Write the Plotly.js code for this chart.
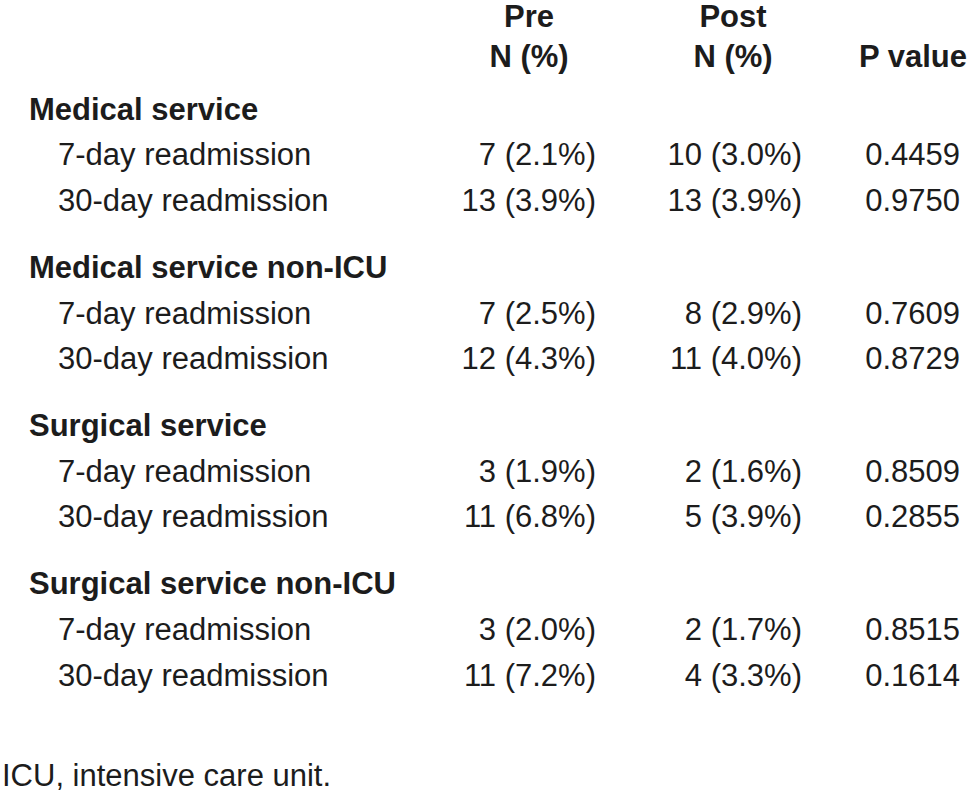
<!DOCTYPE html>
<html>
<head>
<meta charset="utf-8">
<script src="https://cdn.plot.ly/plotly-3.0.1.min.js"></script>
<style>
  html, body { margin: 0; padding: 0; background: #ffffff; }
  #readmission-table { width: 968px; height: 795px; }
</style>
</head>
<body>
<div id="readmission-table"></div>
<script>
// table content
const groups = ["Medical service", "Medical service non-ICU", "Surgical service", "Surgical service non-ICU"];
const outcomes = ["7-day readmission", "30-day readmission"];
const preN = [7, 13, 7, 12, 3, 11, 3, 11];
const prePct = [2.1, 3.9, 2.5, 4.3, 1.9, 6.8, 2.0, 7.2];
const postN = [10, 13, 8, 11, 2, 5, 2, 4];
const postPct = [3.0, 3.9, 2.9, 4.0, 1.6, 3.9, 1.7, 3.3];
const pValues = [0.4459, 0.9750, 0.7609, 0.8729, 0.8509, 0.2855, 0.8515, 0.1614];
const headerTop = ["Pre", "Post", ""];
const headerBottom = ["N (%)", "N (%)", "P value"];
const footnote = "ICU, intensive care unit.";

drawTable();

function drawTable() {
    const fontFamily = "'Liberation Sans Narrow', 'Arial Narrow', 'Liberation Sans', Arial, sans-serif";
    const ink = "#1c1c1c";
    const fontSize = 31;

    // column anchors (x axis is in px across the page)
    const col = {
        group: 29,
        outcome: 58,
        pre: 596,
        post: 802,
        pval: 960,
        preHead: 529,
        postHead: 733,
        pHead: 913,
        note: 2,
    };
    // rows: one unit = one text line
    const groupStep = 3.46;
    const headTopRow = -2.03;
    const headBottomRow = -1.16;
    const noteRow = 14.58;

    const groupY = groups.map((g, i) => i * groupStep);
    const rowLabels = [];
    const rowY = [];
    groups.forEach((g, i) => {
        outcomes.forEach((o, j) => {
            rowLabels.push(o);
            rowY.push(groupY[i] + j + 1);
        });
    });

    const fmtCount = (n, p) => `${n} (${p.toFixed(1)}%)`;
    const preText = preN.map((n, i) => fmtCount(n, prePct[i]));
    const postText = postN.map((n, i) => fmtCount(n, postPct[i]));
    const pText = pValues.map(p => p.toFixed(4));

    const regular = { family: fontFamily, size: fontSize, color: ink };
    const bold = { family: fontFamily, size: fontSize, color: ink, weight: "bold" };

    const textTrace = (x, y, text, position, font) => ({
        x: x,
        y: y,
        text: text,
        mode: "text",
        type: "scatter",
        textposition: position,
        textfont: font,
        hoverinfo: "skip",
        showlegend: false,
        cliponaxis: false,
    });

    const headX = [col.preHead, col.postHead, col.pHead];

    const data = [
        textTrace(headX, headerTop.map(() => headTopRow), headerTop, "middle center", bold),
        textTrace(headX, headerBottom.map(() => headBottomRow), headerBottom, "middle center", bold),
        textTrace(groups.map(() => col.group), groupY, groups, "middle right", bold),
        textTrace(rowLabels.map(() => col.outcome), rowY, rowLabels, "middle right", regular),
        textTrace(preText.map(() => col.pre), rowY, preText, "middle left", regular),
        textTrace(postText.map(() => col.post), rowY, postText, "middle left", regular),
        textTrace(pText.map(() => col.pval), rowY, pText, "middle left", regular),
        textTrace([col.note], [noteRow], [footnote], "middle right", regular),
    ];

    const rowPx = 45.7;
    const firstGroupPx = 112;
    const layout = {
        width: 968,
        height: 795,
        margin: { l: 0, r: 0, t: 0, b: 0 },
        paper_bgcolor: "#ffffff",
        plot_bgcolor: "#ffffff",
        xaxis: { range: [0, 968], visible: false, fixedrange: true },
        yaxis: {
            range: [(795 - firstGroupPx) / rowPx, -firstGroupPx / rowPx],
            visible: false,
            fixedrange: true,
        },
    };

    Plotly.newPlot("readmission-table", data, layout, { displayModeBar: false, staticPlot: true });
}
</script>
</body>
</html>
